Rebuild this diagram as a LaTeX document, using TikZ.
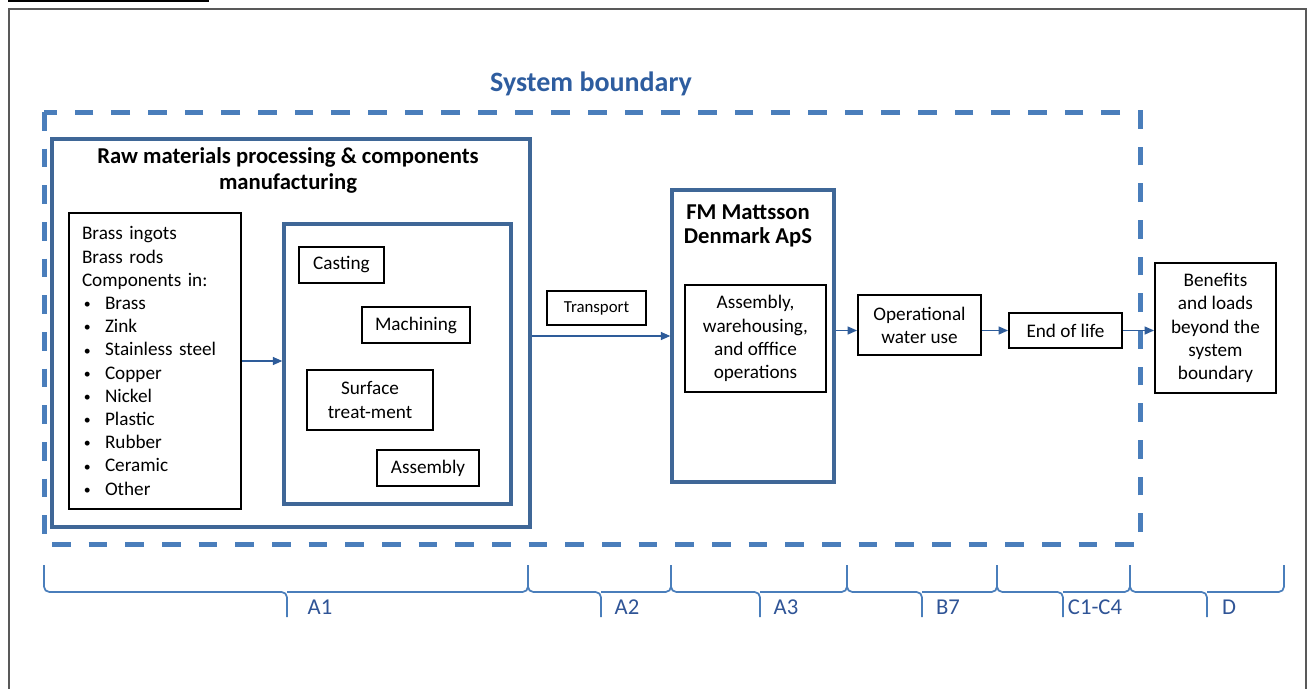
\documentclass[tikz,border=0pt]{standalone}
\usepackage{fontspec}
\setmainfont{Carlito}
\usetikzlibrary{arrows.meta,calc}
\definecolor{dashblue}{HTML}{4A7EBB}
\definecolor{boxblue}{HTML}{3F6797}
\definecolor{arrblue}{HTML}{2E5C9A}
\definecolor{titleblue}{HTML}{2E5D9F}
\definecolor{bracecol}{HTML}{4A7EBB}
\definecolor{labcol}{HTML}{2F5496}
\definecolor{framegray}{HTML}{595959}
\newcommand\itm[1]{\makebox[17.25pt][l]{\hspace{1.5pt}\raisebox{0.6pt}{\scalebox{0.72}{•}}}#1}
\begin{document}
\begin{tikzpicture}[x=0.75pt,y=-0.75pt,
 txt/.style={font=\fontsize{14.4pt}{17.4pt}\selectfont, align=center, inner sep=0pt},
 blk/.style={txt, draw=black, line width=1.5pt},
 bluebox/.style={draw=boxblue, line width=2.6pt, inner sep=0pt},
 arr/.style={draw=arrblue, line width=0.8pt, -{Triangle[length=7pt,width=6pt]}},
 brace/.style={draw=bracecol, line width=1.3pt, rounded corners=4pt},
 blab/.style={font=\fontsize{17pt}{20pt}\selectfont, text=labcol, inner sep=0pt},
 ttl/.style={font=\bfseries\fontsize{17pt}{19.5pt}\selectfont, align=center, inner sep=0pt},
]
\useasboundingbox (0,0) rectangle (1314,689);
% caption underline (cropped) and outer frame
\draw[black, line width=1.8pt] (8,1.2) -- (209,1.2);
\draw[framegray, line width=1.5pt] (9,689) -- (9,9) -- (1306,9) -- (1306,689);

% system boundary
\node[font=\bfseries\fontsize{21pt}{24pt}\selectfont, text=titleblue, inner sep=0pt] (sbtitle) at (591,84) {System boundary};
\draw[dashblue, line width=3.75pt, dash pattern=on 14pt off 13.5pt] (44,112) rectangle (1140,544);

% raw materials block
\node[bluebox, minimum width=358.5pt, minimum height=291pt] (raw) at (291,333) {};
\node[ttl] (rawtitle) at (288,170) {Raw materials processing \& components\\manufacturing};
\node[blk, align=left, text width=109.5pt, inner xsep=9.75pt, inner ysep=0pt, minimum height=222pt] (list) at (155,361) {%
Brass ingots\\Brass rods\\Components in:\\\itm{Brass}\\\itm{Zink}\\\itm{Stainless steel}\\\itm{Copper}\\\itm{Nickel}\\\itm{Plastic}\\\itm{Rubber}\\\itm{Ceramic}\\\itm{Other}};
\node[bluebox, minimum width=170.25pt, minimum height=210pt] (proc) at (397.5,364) {};
\node[blk, minimum width=63.75pt, minimum height=27pt] (cast) at (341.5,265) {Casting};
\node[blk, minimum width=81pt, minimum height=27pt] (mach) at (416,325) {Machining};
\node[blk, minimum width=94.5pt, minimum height=45pt] (surf) at (370,400) {Surface\\treat-ment};
\node[blk, minimum width=76.5pt, minimum height=27pt] (assy) at (428,468) {Assembly};

% transport
\node[blk, font=\fontsize{12.6pt}{15pt}\selectfont, minimum width=74.25pt, minimum height=25.5pt] (trans) at (596.5,308) {Transport};

% FM Mattsson
\node[bluebox, minimum width=121.5pt, minimum height=219pt] (fm) at (753,336) {};
\node[ttl, font=\bfseries\fontsize{17pt}{18pt}\selectfont] (fmtitle) at (748,226) {FM Mattsson\\Denmark ApS};
\node[blk, minimum width=105.75pt, minimum height=80.25pt] (fmops) at (755.5,338.5) {Assembly,\\warehousing,\\and offfice\\operations};

\node[blk, minimum width=92.25pt, minimum height=45pt] (opw) at (919.5,325) {Operational\\water use};
\node[blk, minimum width=84.75pt, minimum height=26.25pt] (eol) at (1065.5,330.5) {End of life};
\node[blk, minimum width=90.75pt, minimum height=97.5pt] (ben) at (1215.5,328) {Benefits\\and loads\\beyond the\\system\\boundary};

% connectors
\draw[arr] (list.east) -- (list.east -| proc.west);
\draw[arr] (fm.west -| raw.east) -- (fm.west);
\draw[arr] (fm.east |- eol.west) -- (opw.west |- eol.west);
\draw[arr] (opw.east |- eol.west) -- (eol.west);
\draw[arr] (eol.east) -- (ben.west |- eol.east);

% braces
\foreach \a/\b/\t/\lab/\lx/\nm in {44/528/287/A1/320/bA, 528/671/601/A2/627/bB, 671/847/760/A3/786/bC, 847/997/922/B7/948/bD, 997/1130/1063/C1-C4/1095/bE, 1130/1284/1207/D/1229/bF}{
  \draw[brace] (\a,565) |- (\t,592) -- (\t,617);
  \draw[brace] (\b,565) |- (\t,592);
  \node[blab] (\nm) at (\lx,607) {\lab};
}
\end{tikzpicture}
\end{document}
